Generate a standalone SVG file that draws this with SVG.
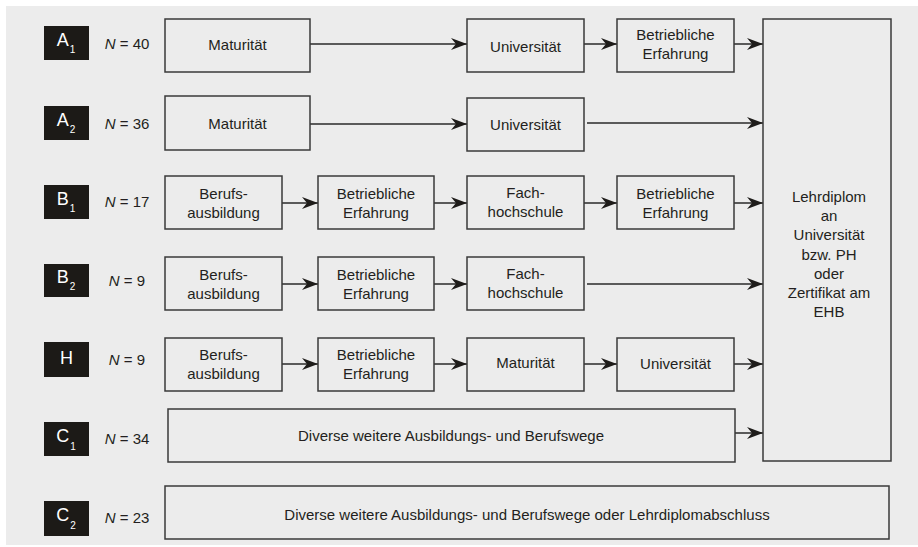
<svg xmlns="http://www.w3.org/2000/svg" width="918" height="547" viewBox="0 0 918 547">
<defs>
<marker id="arr" viewBox="0 0 16 12" refX="16" refY="6" markerWidth="16" markerHeight="12" markerUnits="userSpaceOnUse" orient="auto">
<path d="M0,0 L16,6 L0,12 L5,6 Z" fill="#1e1c1a"/>
</marker>
<style>
.box{fill:#ececec;stroke:#3a3a3a;stroke-width:1.5}
.lab{fill:#1c1a17}
.t{font-family:"Liberation Sans",Arial,sans-serif;font-size:15px;fill:#231f20;text-anchor:middle}
.lt{font-family:"Liberation Sans",Arial,sans-serif;font-size:18px;fill:#ffffff;text-anchor:middle}
.sub{font-size:10px}
.n{font-family:"Liberation Sans",Arial,sans-serif;font-size:15px;fill:#231f20;text-anchor:middle}
.c line{stroke:#2a2a2a;stroke-width:1.5;marker-end:url(#arr)}
</style>
</defs>
<rect x="0" y="0" width="918" height="547" fill="#ffffff"/>
<rect x="6" y="6" width="912" height="539" fill="#ececec"/>

<g id="labels">
<g id="lab-A1"><rect class="lab" x="44" y="26" width="45" height="34"/><text class="lt" x="66" y="46">A<tspan class="sub" dx="1" dy="7">1</tspan></text><text class="n" x="127" y="49"><tspan font-style="italic">N</tspan> = 40</text></g>
<g id="lab-A2"><rect class="lab" x="44" y="106" width="45" height="34"/><text class="lt" x="66" y="126">A<tspan class="sub" dx="1" dy="7">2</tspan></text><text class="n" x="127" y="129"><tspan font-style="italic">N</tspan> = 36</text></g>
<g id="lab-B1"><rect class="lab" x="44" y="185" width="45" height="34"/><text class="lt" x="66" y="205">B<tspan class="sub" dx="1" dy="7">1</tspan></text><text class="n" x="127" y="207"><tspan font-style="italic">N</tspan> = 17</text></g>
<g id="lab-B2"><rect class="lab" x="44" y="264" width="45" height="33"/><text class="lt" x="66" y="283">B<tspan class="sub" dx="1" dy="7">2</tspan></text><text class="n" x="127" y="286"><tspan font-style="italic">N</tspan> = 9</text></g>
<g id="lab-H"><rect class="lab" x="44" y="342" width="45" height="35"/><text class="lt" x="66.5" y="364">H</text><text class="n" x="127" y="365"><tspan font-style="italic">N</tspan> = 9</text></g>
<g id="lab-C1"><rect class="lab" x="44" y="422" width="45" height="34"/><text class="lt" x="66" y="442">C<tspan class="sub" dx="1" dy="8">1</tspan></text><text class="n" x="127" y="444"><tspan font-style="italic">N</tspan> = 34</text></g>
<g id="lab-C2"><rect class="lab" x="44" y="501" width="45" height="35"/><text class="lt" x="66" y="521">C<tspan class="sub" dx="1" dy="8">2</tspan></text><text class="n" x="127" y="523"><tspan font-style="italic">N</tspan> = 23</text></g>
</g>

<g id="connectors" class="c">
<line x1="310" y1="44" x2="467" y2="44"/>
<line x1="584" y1="44" x2="617" y2="44"/>
<line x1="734" y1="44" x2="763" y2="44"/>
<line x1="310" y1="124" x2="467" y2="124"/>
<line x1="587" y1="123" x2="763" y2="123"/>
<line x1="282" y1="203" x2="318" y2="203"/>
<line x1="434" y1="203" x2="467" y2="203"/>
<line x1="584" y1="203" x2="617" y2="203"/>
<line x1="734" y1="203" x2="763" y2="203"/>
<line x1="282" y1="284" x2="318" y2="284"/>
<line x1="434" y1="284" x2="467" y2="284"/>
<line x1="587" y1="284" x2="763" y2="284"/>
<line x1="282" y1="364" x2="318" y2="364"/>
<line x1="434" y1="364" x2="467" y2="364"/>
<line x1="584" y1="364" x2="617" y2="364"/>
<line x1="734" y1="364" x2="763" y2="364"/>
<line x1="735" y1="433" x2="763" y2="433"/>
</g>

<g id="A1-mat"><rect class="box" x="165" y="19" width="145" height="53"/><text class="t" x="237.5" y="50">Maturität</text></g>
<g id="A1-uni"><rect class="box" x="467" y="19" width="117" height="53"/><text class="t" x="525.5" y="52">Universität</text></g>
<g id="A1-erf"><rect class="box" x="617" y="19" width="117" height="53"/><text class="t" x="675.5" y="40">Betriebliche</text><text class="t" x="675.5" y="59">Erfahrung</text></g>

<g id="A2-mat"><rect class="box" x="165" y="96" width="145" height="54"/><text class="t" x="237.5" y="129">Maturität</text></g>
<g id="A2-uni"><rect class="box" x="467" y="98" width="117" height="53"/><text class="t" x="525.5" y="130">Universität</text></g>

<g id="B1-ber"><rect class="box" x="165" y="176" width="117" height="53"/><text class="t" x="223.5" y="199">Berufs-</text><text class="t" x="223.5" y="218">ausbildung</text></g>
<g id="B1-erf"><rect class="box" x="318" y="176" width="116" height="53"/><text class="t" x="376" y="199">Betriebliche</text><text class="t" x="376" y="218">Erfahrung</text></g>
<g id="B1-fh"><rect class="box" x="467" y="176" width="117" height="53"/><text class="t" x="525.5" y="198">Fach-</text><text class="t" x="525.5" y="217">hochschule</text></g>
<g id="B1-erf2"><rect class="box" x="617" y="176" width="117" height="53"/><text class="t" x="675.5" y="199">Betriebliche</text><text class="t" x="675.5" y="218">Erfahrung</text></g>

<g id="B2-ber"><rect class="box" x="165" y="257" width="117" height="53"/><text class="t" x="223.5" y="280">Berufs-</text><text class="t" x="223.5" y="299">ausbildung</text></g>
<g id="B2-erf"><rect class="box" x="318" y="257" width="116" height="53"/><text class="t" x="376" y="280">Betriebliche</text><text class="t" x="376" y="299">Erfahrung</text></g>
<g id="B2-fh"><rect class="box" x="467" y="257" width="117" height="53"/><text class="t" x="525.5" y="279">Fach-</text><text class="t" x="525.5" y="298">hochschule</text></g>

<g id="H-ber"><rect class="box" x="165" y="338" width="117" height="53"/><text class="t" x="223.5" y="360">Berufs-</text><text class="t" x="223.5" y="379">ausbildung</text></g>
<g id="H-erf"><rect class="box" x="318" y="338" width="116" height="53"/><text class="t" x="376" y="360">Betriebliche</text><text class="t" x="376" y="379">Erfahrung</text></g>
<g id="H-mat"><rect class="box" x="467" y="338" width="117" height="53"/><text class="t" x="525.5" y="368">Maturität</text></g>
<g id="H-uni"><rect class="box" x="617" y="338" width="117" height="53"/><text class="t" x="675.5" y="369">Universität</text></g>

<g id="C1-box"><rect class="box" x="168" y="409" width="567" height="53"/><text class="t" x="451" y="441">Diverse weitere Ausbildungs- und Berufswege</text></g>
<g id="C2-box"><rect class="box" x="165" y="486" width="724" height="53"/><text class="t" x="527" y="520">Diverse weitere Ausbildungs- und Berufswege oder Lehrdiplomabschluss</text></g>

<g id="target"><rect class="box" x="763" y="19" width="128" height="442"/>
<text class="t" x="829" y="202">Lehrdiplom</text>
<text class="t" x="829" y="221">an</text>
<text class="t" x="829" y="240">Universität</text>
<text class="t" x="829" y="259.5">bzw. PH</text>
<text class="t" x="829" y="279">oder</text>
<text class="t" x="829" y="298">Zertifikat am</text>
<text class="t" x="829" y="317">EHB</text>
</g>
</svg>
